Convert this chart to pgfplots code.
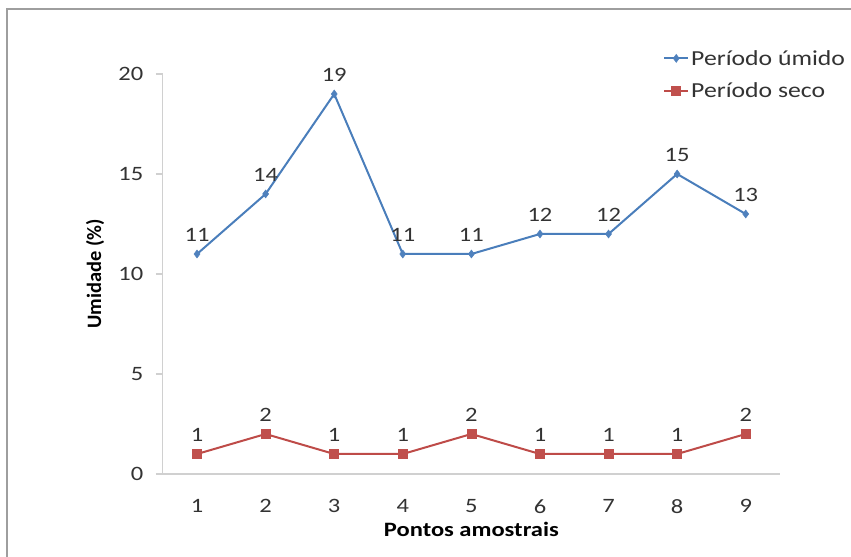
\documentclass[border=0pt]{standalone}
\usepackage{fontspec}
\setmainfont{Carlito}[FakeStretch=1.2]
\newfontfamily\plainfont{Carlito}
\usepackage{pgfplots}
\pgfplotsset{compat=1.18}

\definecolor{umido}{HTML}{4A7EBB}
\definecolor{umidomk}{HTML}{4F81BD}
\definecolor{seco}{HTML}{BE4B48}
\definecolor{secomk}{HTML}{C0504D}
\definecolor{axgray}{HTML}{D0D0D0}
\definecolor{txt}{HTML}{333333}

\begin{document}
\begin{tikzpicture}
\path[use as bounding box] (0,0) rectangle (851bp,557bp);
% outer chart frame (cropped at right and bottom)
\draw[black!38, line width=1.2bp] (7bp,0) -- (7bp,548bp) -- (851bp,548bp);
\begin{axis}[
  at={(162.75bp,83bp)}, anchor=south west,
  scale only axis, width=617.25bp, height=400bp,
  xmin=0.5, xmax=9.5, ymin=0, ymax=20,
  axis x line*=bottom, axis y line*=left,
  axis line style={draw=axgray, line width=1.3bp},
  xtick={1,2,...,9}, ytick={0,5,10,15,20},
  xtick style={draw=none},
  ytick style={draw=axgray, line width=1.3bp},
  major tick length=7bp, tick align=outside,
  /pgf/number format/assume math mode=true,
  font=\fontsize{20.5}{24}\selectfont,
  tick label style={text=txt},
  yticklabel style={xshift=-9bp},
  xticklabel style={yshift=-15bp},
  xlabel={\bfseries Pontos amostrais},
  ylabel={\plainfont\bfseries Umidade (\%)},
  xlabel style={at={(axis description cs:0.5,-0.1375)}, anchor=center, text=black},
  ylabel style={at={(axis description cs:-0.1098,0.5)}, anchor=center, text=black},
  clip=false,
  nodes near coords,
  every node near coord/.style={anchor=south, inner sep=0pt, yshift=12bp, text=txt, font=\fontsize{20.5}{24}\selectfont},
  legend style={draw=none, fill=none, at={(0.8105,1.065)}, anchor=north west,
    inner sep=0pt, row sep=12bp, nodes={inner sep=2bp, anchor=west},
    font=\fontsize{21.5}{25}\selectfont, text=txt},
  legend cell align=left,
  legend image code/.code={
    \draw[mark repeat=2, mark phase=2] plot coordinates {(0bp,0bp) (12bp,0bp) (24bp,0bp)};
  },
]
\addplot[color=umido, line width=2bp, mark=diamond*, mark size=4bp,
  mark options={fill=umidomk, draw=umidomk, line width=0.5bp}]
  coordinates {(1,11) (2,14) (3,19) (4,11) (5,11) (6,12) (7,12) (8,15) (9,13)};
\addlegendentry{Período úmido}
\addplot[color=seco, line width=2bp, mark=square*, mark size=4.5bp,
  mark options={fill=secomk, draw=secomk, line width=0.5bp}]
  coordinates {(1,1) (2,2) (3,1) (4,1) (5,2) (6,1) (7,1) (8,1) (9,2)};
\addlegendentry{Período seco}
\end{axis}
\end{tikzpicture}
\end{document}
